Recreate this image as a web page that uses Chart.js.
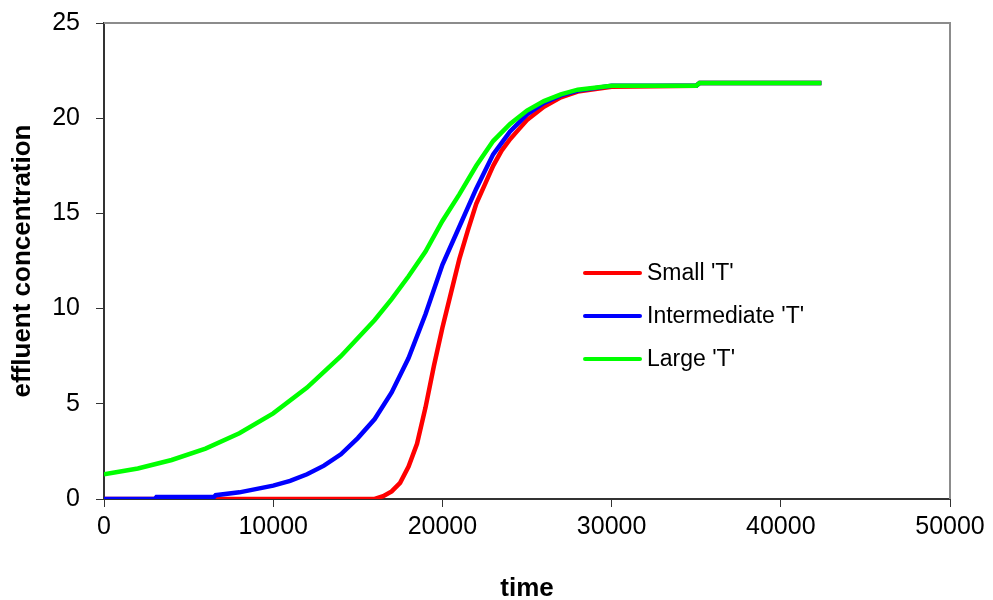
<!DOCTYPE html>
<html>
<head>
<meta charset="utf-8">
<script src="https://cdn.jsdelivr.net/npm/chart.js@4"></script>
<style>
  html, body { margin: 0; padding: 0; background: #fff; }
  #wrap { width: 993px; height: 600px; }
</style>
</head>
<body>
<div id="wrap"><canvas id="chart"></canvas></div>
<script>
// values
const seriesLabels = ["Small 'T'", "Intermediate 'T'", "Large 'T'"];
const seriesColors = ['#ff0000', '#0000ff', '#00ff00'];

const timeSmall = [0, 16000, 16500, 17000, 17500, 18000, 18500, 19000, 19500, 20000, 20500, 21000, 21500, 22000, 22500, 23000, 23500, 24000, 24500, 25000, 26000, 27000, 28000, 30000, 35000, 35200, 42400];
const concSmall = [0, 0, 0.15, 0.4, 0.85, 1.7, 2.9, 4.8, 7.0, 9.0, 10.8, 12.6, 14.1, 15.5, 16.5, 17.5, 18.3, 18.9, 19.4, 19.9, 20.6, 21.1, 21.4, 21.65, 21.7, 21.85, 21.85];

const timeInter = [0, 3000, 3100, 6500, 6600, 8000, 10000, 11000, 12000, 13000, 14000, 15000, 16000, 17000, 18000, 19000, 20000, 21000, 22000, 23000, 24000, 25000, 26000, 27000, 28000, 30000, 35000, 35200, 42400];
const concInter = [0, 0, 0.1, 0.1, 0.2, 0.35, 0.7, 0.95, 1.3, 1.75, 2.35, 3.2, 4.2, 5.6, 7.4, 9.7, 12.3, 14.3, 16.3, 18.1, 19.3, 20.2, 20.8, 21.2, 21.45, 21.7, 21.7, 21.85, 21.85];

const timeLarge = [0, 2000, 4000, 6000, 8000, 10000, 12000, 14000, 16000, 17000, 18000, 19000, 20000, 21000, 22000, 23000, 24000, 25000, 26000, 27000, 28000, 30000, 35000, 35200, 42400];
const concLarge = [1.3, 1.6, 2.05, 2.65, 3.45, 4.5, 5.85, 7.5, 9.4, 10.5, 11.7, 13.0, 14.6, 16.0, 17.5, 18.8, 19.7, 20.4, 20.9, 21.25, 21.5, 21.7, 21.7, 21.85, 21.85];

const xTitle = 'time';
const yTitle = 'effluent concentration';

const toPoints = (xs, ys) => xs.map((x, i) => ({ x: x, y: ys[i] }));
const allSeries = [
    toPoints(timeSmall, concSmall),
    toPoints(timeInter, concInter),
    toPoints(timeLarge, concLarge)
];

const fontFamily = '"Liberation Sans", Arial, sans-serif';

// gray frame on top and right side of plot area
const framePlugin = {
    id: 'frame',
    beforeDatasetsDraw(chart) {
        const a = chart.chartArea;
        const ctx = chart.ctx;
        ctx.save();
        ctx.strokeStyle = '#8c8c8c';
        ctx.lineWidth = 2;
        ctx.beginPath();
        ctx.moveTo(a.left, a.top);
        ctx.lineTo(a.right, a.top);
        ctx.lineTo(a.right, a.bottom);
        ctx.stroke();
        ctx.restore();
    }
};

// legend sitting inside the plot
const legendPlugin = {
    id: 'insideLegend',
    afterDatasetsDraw(chart) {
        const ctx = chart.ctx;
        const x0 = 585, y0 = 273, gap = 43;
        ctx.save();
        ctx.font = '23px ' + fontFamily;
        ctx.textBaseline = 'middle';
        chart.data.datasets.forEach((ds, i) => {
            const y = y0 + i * gap;
            ctx.strokeStyle = ds.borderColor;
            ctx.lineWidth = 4;
            ctx.lineCap = 'round';
            ctx.beginPath();
            ctx.moveTo(x0, y);
            ctx.lineTo(x0 + 55, y);
            ctx.stroke();
            ctx.fillStyle = '#000';
            ctx.fillText(ds.label, x0 + 62, y + 1);
        });
        ctx.restore();
    }
};

new Chart(document.getElementById('chart'), {
    type: 'scatter',
    data: {
        datasets: allSeries.map((pts, i) => ({
            label: seriesLabels[i],
            data: pts,
            showLine: true,
            borderColor: seriesColors[i],
            backgroundColor: seriesColors[i],
            borderWidth: 4.5,
            pointRadius: 0,
            tension: 0,
            order: 2 - i
        }))
    },
    options: {
        responsive: true,
        maintainAspectRatio: false,
        animation: false,
        layout: { padding: { top: 23, right: 43, left: 0, bottom: 0 } },
        plugins: {
            legend: { display: false },
            tooltip: { enabled: false }
        },
        scales: {
            x: {
                type: 'linear',
                min: 0,
                max: 50000,
                ticks: {
                    stepSize: 10000,
                    color: '#000',
                    padding: 5,
                    maxRotation: 0,
                    font: { family: fontFamily, size: 25 },
                    callback: v => String(v)
                },
                grid: { drawOnChartArea: false, drawTicks: true, tickLength: 8, color: '#333' },
                border: { color: '#333', width: 2 },
                title: {
                    display: true,
                    text: xTitle,
                    color: '#000',
                    font: { family: fontFamily, size: 26, weight: 'bold', lineHeight: 1 },
                    padding: { top: 10, bottom: -2 }
                },
                afterFit(scale) {
                    scale.height = 101;
                    scale.paddingLeft = 0;
                    scale.paddingRight = 0;
                }
            },
            y: {
                min: 0,
                max: 25,
                ticks: {
                    stepSize: 5,
                    color: '#000',
                    padding: 16,
                    font: { family: fontFamily, size: 25 }
                },
                grid: { drawOnChartArea: false, drawTicks: true, tickLength: 8, color: '#333' },
                border: { color: '#333', width: 2 },
                title: {
                    display: true,
                    text: yTitle,
                    color: '#000',
                    font: { family: fontFamily, size: 26, weight: 'bold' },
                    padding: { top: 7, bottom: 0 }
                },
                afterFit(scale) {
                    scale.width = 104;
                    scale.paddingTop = 0;
                    scale.paddingBottom = 0;
                }
            }
        }
    },
    plugins: [framePlugin, legendPlugin]
});
</script>
</body>
</html>
